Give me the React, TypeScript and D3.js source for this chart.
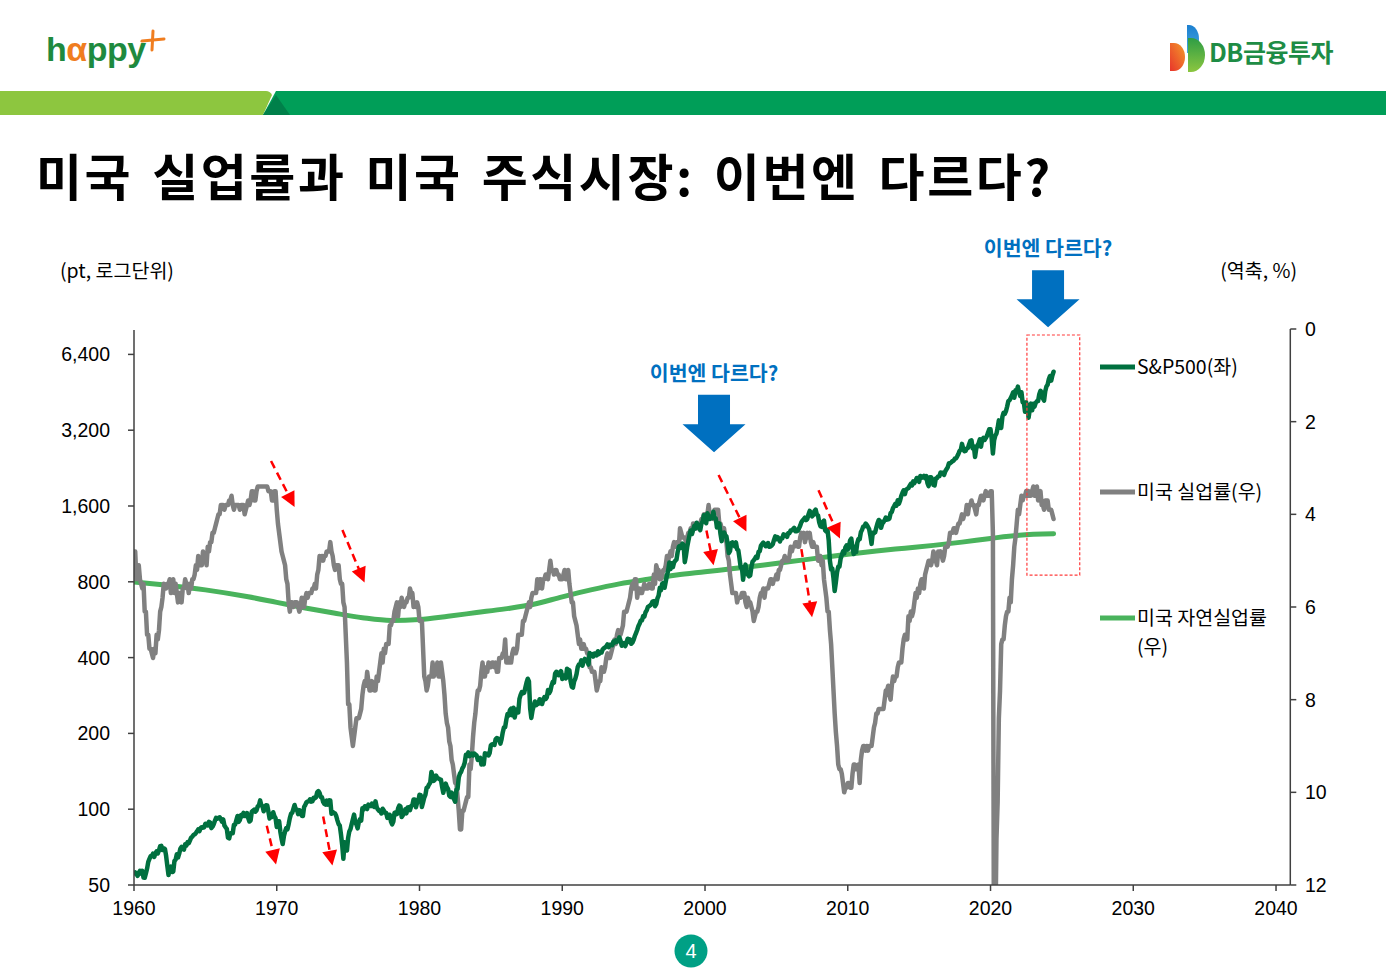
import React from "react";
import * as d3 from "d3";

// ---------------- DATA ----------------
// S&P 500 monthly closes, Jan 1960 .. Jun 2024
const spx1960s = [
  55.61, 56.12, 55.34, 54.37, 55.83, 56.92, 55.51, 56.96, 53.52, 53.39, 55.54, 58.11,
  61.78, 63.44, 65.06, 65.31, 66.56, 64.64, 66.76, 68.07, 66.73, 68.62, 71.32, 71.55,
  68.84, 69.96, 69.55, 65.24, 59.63, 54.75, 58.23, 59.12, 56.27, 56.52, 62.26, 63.1,
  66.2, 64.29, 66.57, 69.8, 70.8, 69.37, 69.13, 72.5, 71.7, 74.01, 73.23, 75.02,
  77.04, 77.8, 78.98, 79.46, 80.37, 81.69, 83.18, 81.83, 84.18, 84.86, 84.42, 84.75,
  87.56, 87.43, 86.16, 89.11, 88.42, 84.12, 85.25, 87.17, 89.96, 92.42, 91.61, 92.43,
  92.88, 91.22, 89.23, 91.06, 86.13, 84.74, 83.6, 77.1, 76.56, 80.2, 80.45, 80.33,
  86.61, 86.78, 90.2, 94.01, 89.08, 90.64, 94.75, 93.64, 96.71, 93.9, 94.0, 96.47,
  92.24, 89.36, 90.2, 97.59, 98.68, 99.58, 97.74, 98.86, 102.67, 103.41, 108.37, 103.86,
  103.01, 98.13, 101.51, 103.69, 103.46, 97.71, 91.83, 95.51, 93.12, 97.24, 93.81, 92.06,
];
const spx1970s = [
  85.02, 89.5, 89.63, 81.52, 76.55, 72.72, 78.05, 81.52, 84.21, 83.25, 87.2, 92.15,
  95.88, 96.75, 100.31, 103.95, 99.63, 99.7, 95.58, 99.03, 98.34, 94.23, 93.99, 102.09,
  103.94, 106.57, 107.2, 107.67, 109.53, 107.14, 107.39, 111.09, 110.55, 111.58, 116.67, 118.05,
  116.03, 111.68, 111.52, 106.97, 104.95, 104.26, 108.22, 104.25, 108.43, 108.29, 95.96, 97.55,
  96.57, 96.22, 93.98, 90.31, 87.28, 86.0, 79.31, 72.15, 63.54, 73.9, 69.97, 68.56,
  76.98, 81.59, 83.36, 87.3, 91.15, 95.19, 88.75, 86.88, 83.87, 89.04, 91.24, 90.19,
  100.86, 99.71, 102.77, 101.64, 100.18, 104.28, 103.44, 102.91, 105.24, 102.9, 102.1, 107.46,
  102.03, 99.82, 98.42, 98.44, 96.12, 100.48, 98.85, 96.77, 96.53, 92.34, 94.83, 95.1,
  89.25, 87.04, 89.21, 96.83, 97.24, 95.53, 100.68, 103.29, 102.54, 93.15, 94.7, 96.11,
  99.93, 96.28, 101.59, 101.76, 99.08, 102.91, 103.81, 109.32, 109.32, 101.82, 106.16, 107.94,
];
const spx1980s = [
  114.16, 113.66, 102.09, 106.29, 111.24, 114.24, 121.67, 122.38, 125.46, 127.47, 140.52, 135.76,
  129.55, 131.27, 136.0, 132.81, 132.59, 131.21, 130.92, 122.79, 116.18, 121.89, 126.35, 122.55,
  120.4, 113.11, 111.96, 116.44, 111.88, 109.61, 107.09, 119.51, 120.42, 133.71, 138.54, 140.64,
  145.3, 148.06, 152.96, 164.42, 162.39, 168.11, 162.56, 164.4, 166.07, 163.55, 166.4, 164.93,
  163.41, 157.06, 159.18, 160.05, 150.55, 153.18, 150.66, 166.68, 166.1, 166.09, 163.58, 167.24,
  179.63, 181.18, 180.66, 179.83, 189.55, 191.85, 190.92, 188.63, 182.08, 189.82, 202.17, 211.28,
  211.78, 226.92, 238.9, 235.52, 247.35, 250.84, 236.12, 252.93, 231.32, 243.98, 249.22, 242.17,
  274.08, 284.2, 291.7, 288.36, 290.1, 304.0, 318.66, 329.8, 321.83, 251.79, 230.3, 247.08,
  257.07, 267.82, 258.89, 261.33, 262.16, 273.5, 272.02, 261.52, 271.91, 278.97, 273.7, 277.72,
  297.47, 288.86, 294.87, 309.64, 320.52, 317.98, 346.08, 351.45, 349.15, 340.36, 345.99, 353.4,
];
const spx1990s = [
  329.08, 331.89, 339.94, 330.8, 361.23, 358.02, 356.15, 322.56, 306.05, 304.0, 322.22, 330.22,
  343.93, 367.07, 375.22, 375.35, 389.83, 371.16, 387.81, 395.43, 387.86, 392.45, 375.22, 417.09,
  408.79, 412.7, 403.69, 414.95, 415.35, 408.14, 424.21, 414.03, 417.8, 418.68, 431.35, 435.71,
  438.78, 443.38, 451.67, 440.19, 450.19, 450.53, 448.13, 463.56, 458.93, 467.83, 461.79, 466.45,
  481.61, 467.14, 445.77, 450.91, 456.5, 444.27, 458.26, 475.49, 462.69, 472.35, 453.69, 459.27,
  470.42, 487.39, 500.71, 514.71, 533.4, 544.75, 562.06, 561.88, 584.41, 581.5, 605.37, 615.93,
  636.02, 640.43, 645.5, 654.17, 669.12, 670.63, 639.95, 651.99, 687.33, 705.27, 757.02, 740.74,
  786.16, 790.82, 757.12, 801.34, 848.28, 885.14, 954.29, 899.47, 947.28, 914.62, 955.4, 970.43,
  980.28, 1049.34, 1101.75, 1111.75, 1090.82, 1133.84, 1120.67, 957.28, 1017.01, 1098.67, 1163.63, 1229.23,
  1279.64, 1238.33, 1286.37, 1335.18, 1301.84, 1372.71, 1328.72, 1320.41, 1282.71, 1362.93, 1388.91, 1469.25,
];
const spx2000s = [
  1394.46, 1366.42, 1498.58, 1452.43, 1420.6, 1454.6, 1430.83, 1517.68, 1436.51, 1429.4, 1314.95, 1320.28,
  1366.01, 1239.94, 1160.33, 1249.46, 1255.82, 1224.38, 1211.23, 1133.58, 1040.94, 1059.78, 1139.45, 1148.08,
  1130.2, 1106.73, 1147.39, 1076.92, 1067.14, 989.82, 911.62, 916.07, 815.28, 885.76, 936.31, 879.82,
  855.7, 841.15, 848.18, 916.92, 963.59, 974.5, 990.31, 1008.01, 995.97, 1050.71, 1058.2, 1111.92,
  1131.13, 1144.94, 1126.21, 1107.3, 1120.68, 1140.84, 1101.72, 1104.24, 1114.58, 1130.2, 1173.82, 1211.92,
  1181.27, 1203.6, 1180.59, 1156.85, 1191.5, 1191.33, 1234.18, 1220.33, 1228.81, 1207.01, 1249.48, 1248.29,
  1280.08, 1280.66, 1294.87, 1310.61, 1270.09, 1270.2, 1276.66, 1303.82, 1335.85, 1377.94, 1400.63, 1418.3,
  1438.24, 1406.82, 1420.86, 1482.37, 1530.62, 1503.35, 1455.27, 1473.99, 1526.75, 1549.38, 1481.14, 1468.36,
  1378.55, 1330.63, 1322.7, 1385.59, 1400.38, 1280.0, 1267.38, 1282.83, 1166.36, 968.75, 896.24, 903.25,
  825.88, 735.09, 797.87, 872.81, 919.14, 919.32, 987.48, 1020.62, 1057.08, 1036.19, 1095.63, 1115.1,
];
const spx2010s = [
  1073.87, 1104.49, 1169.43, 1186.69, 1089.41, 1030.71, 1101.6, 1049.33, 1141.2, 1183.26, 1180.55, 1257.64,
  1286.12, 1327.22, 1325.83, 1363.61, 1345.2, 1320.64, 1292.28, 1218.89, 1131.42, 1253.3, 1246.96, 1257.6,
  1312.41, 1365.68, 1408.47, 1397.91, 1310.33, 1362.16, 1379.32, 1406.58, 1440.67, 1412.16, 1416.18, 1426.19,
  1498.11, 1514.68, 1569.19, 1597.57, 1630.74, 1606.28, 1685.73, 1632.97, 1681.55, 1756.54, 1805.81, 1848.36,
  1782.59, 1859.45, 1872.34, 1883.95, 1923.57, 1960.23, 1930.67, 2003.37, 1972.29, 2018.05, 2067.56, 2058.9,
  1994.99, 2104.5, 2067.89, 2085.51, 2107.39, 2063.11, 2103.84, 1972.18, 1920.03, 2079.36, 2080.41, 2043.94,
  1940.24, 1932.23, 2059.74, 2065.3, 2096.95, 2098.86, 2173.6, 2170.95, 2168.27, 2126.15, 2198.81, 2238.83,
  2278.87, 2363.64, 2362.72, 2384.2, 2411.8, 2423.41, 2470.3, 2471.65, 2519.36, 2575.26, 2647.58, 2673.61,
  2823.81, 2713.83, 2640.87, 2648.05, 2705.27, 2718.37, 2816.29, 2901.52, 2913.98, 2711.74, 2760.17, 2506.85,
  2704.1, 2784.49, 2834.4, 2945.83, 2752.06, 2941.76, 2980.38, 2926.46, 2976.74, 3037.56, 3140.98, 3230.78,
];
const spx2020s = [
  3225.52, 2954.22, 2584.59, 2912.43, 3044.31, 3100.29, 3271.12, 3500.31, 3363.0, 3269.96, 3621.63, 3756.07,
  3714.24, 3811.15, 3972.89, 4181.17, 4204.11, 4297.5, 4395.26, 4522.68, 4307.54, 4605.38, 4567.0, 4766.18,
  4515.55, 4373.94, 4530.41, 4131.93, 4132.15, 3785.38, 4130.29, 3955.0, 3585.62, 3871.98, 4080.11, 3839.5,
  4076.6, 3970.15, 4109.31, 4169.48, 4179.83, 4450.38, 4588.96, 4507.66, 4288.05, 4193.8, 4567.8, 4769.83,
  4845.65, 5096.27, 5254.35, 5035.69, 5277.51, 5460.48,
];

// US unemployment rate (%), monthly, Jan 1960 .. Jun 2024
const ur1960s = [
  5.2, 4.8, 5.4, 5.2, 5.1, 5.4, 5.5, 5.6, 5.5, 6.1, 6.1, 6.6,
  6.6, 6.9, 6.9, 7.0, 7.1, 6.9, 7.0, 6.6, 6.7, 6.5, 6.1, 6.0,
  5.8, 5.5, 5.6, 5.6, 5.5, 5.5, 5.4, 5.7, 5.6, 5.4, 5.7, 5.5,
  5.7, 5.9, 5.7, 5.7, 5.9, 5.6, 5.6, 5.4, 5.5, 5.5, 5.7, 5.5,
  5.6, 5.4, 5.4, 5.3, 5.1, 5.2, 4.9, 5.0, 5.1, 5.1, 4.8, 5.0,
  4.9, 5.1, 4.7, 4.8, 4.6, 4.6, 4.4, 4.4, 4.3, 4.2, 4.1, 4.0,
  4.0, 3.8, 3.8, 3.8, 3.9, 3.8, 3.8, 3.8, 3.7, 3.7, 3.6, 3.8,
  3.9, 3.8, 3.8, 3.8, 3.8, 3.9, 3.8, 3.8, 3.8, 4.0, 3.9, 3.8,
  3.7, 3.8, 3.7, 3.5, 3.5, 3.7, 3.7, 3.5, 3.4, 3.4, 3.4, 3.4,
  3.4, 3.4, 3.4, 3.4, 3.4, 3.5, 3.5, 3.5, 3.7, 3.7, 3.5, 3.5,
];
const ur1970s = [
  3.9, 4.2, 4.4, 4.6, 4.8, 4.9, 5.0, 5.1, 5.4, 5.5, 5.9, 6.1,
  5.9, 5.9, 6.0, 5.9, 5.9, 5.9, 6.0, 6.1, 6.0, 5.8, 6.0, 6.0,
  5.8, 5.7, 5.8, 5.7, 5.7, 5.7, 5.6, 5.6, 5.5, 5.6, 5.3, 5.2,
  4.9, 5.0, 4.9, 5.0, 4.9, 4.9, 4.8, 4.8, 4.8, 4.6, 4.8, 4.9,
  5.1, 5.2, 5.1, 5.1, 5.1, 5.4, 5.5, 5.5, 5.9, 6.0, 6.6, 7.2,
  8.1, 8.1, 8.6, 8.8, 9.0, 8.8, 8.6, 8.4, 8.4, 8.4, 8.3, 8.2,
  7.9, 7.7, 7.6, 7.7, 7.4, 7.6, 7.8, 7.8, 7.6, 7.7, 7.8, 7.8,
  7.5, 7.6, 7.4, 7.2, 7.0, 7.2, 6.9, 7.0, 6.8, 6.8, 6.8, 6.4,
  6.4, 6.3, 6.3, 6.1, 6.0, 5.9, 6.2, 5.9, 6.0, 5.8, 5.9, 6.0,
  5.9, 5.9, 5.8, 5.8, 5.6, 5.7, 5.7, 6.0, 5.9, 6.0, 5.9, 6.0,
];
const ur1980s = [
  6.3, 6.3, 6.3, 6.9, 7.5, 7.6, 7.8, 7.7, 7.5, 7.5, 7.5, 7.2,
  7.5, 7.4, 7.4, 7.2, 7.5, 7.5, 7.2, 7.4, 7.6, 7.9, 8.3, 8.5,
  8.6, 8.9, 9.0, 9.3, 9.4, 9.6, 9.8, 9.8, 10.1, 10.4, 10.8, 10.8,
  10.4, 10.4, 10.3, 10.2, 10.1, 10.1, 9.4, 9.5, 9.2, 8.8, 8.5, 8.3,
  8.0, 7.8, 7.8, 7.7, 7.4, 7.2, 7.5, 7.5, 7.3, 7.4, 7.2, 7.3,
  7.3, 7.2, 7.2, 7.3, 7.2, 7.4, 7.4, 7.1, 7.1, 7.1, 7.0, 7.0,
  6.7, 7.2, 7.2, 7.1, 7.2, 7.2, 7.0, 6.9, 7.0, 7.0, 6.9, 6.6,
  6.6, 6.6, 6.6, 6.3, 6.3, 6.2, 6.1, 6.0, 5.9, 6.0, 5.8, 5.7,
  5.7, 5.7, 5.7, 5.4, 5.6, 5.4, 5.4, 5.6, 5.4, 5.4, 5.3, 5.3,
  5.4, 5.2, 5.0, 5.2, 5.2, 5.3, 5.2, 5.2, 5.3, 5.3, 5.4, 5.4,
];
const ur1990s = [
  5.4, 5.3, 5.2, 5.4, 5.4, 5.2, 5.5, 5.7, 5.9, 5.9, 6.2, 6.3,
  6.4, 6.6, 6.8, 6.7, 6.9, 6.9, 6.8, 6.9, 6.9, 7.0, 7.0, 7.3,
  7.3, 7.4, 7.4, 7.4, 7.6, 7.8, 7.7, 7.6, 7.6, 7.3, 7.4, 7.4,
  7.3, 7.1, 7.0, 7.1, 7.1, 7.0, 6.9, 6.8, 6.7, 6.8, 6.6, 6.5,
  6.6, 6.6, 6.5, 6.4, 6.1, 6.1, 6.1, 6.0, 5.9, 5.8, 5.6, 5.5,
  5.6, 5.4, 5.4, 5.8, 5.6, 5.6, 5.7, 5.7, 5.6, 5.5, 5.6, 5.6,
  5.6, 5.5, 5.5, 5.6, 5.6, 5.3, 5.5, 5.1, 5.2, 5.2, 5.4, 5.4,
  5.3, 5.2, 5.2, 5.1, 4.9, 5.0, 4.9, 4.8, 4.9, 4.7, 4.6, 4.7,
  4.6, 4.6, 4.7, 4.3, 4.4, 4.5, 4.5, 4.5, 4.6, 4.5, 4.4, 4.4,
  4.3, 4.4, 4.2, 4.3, 4.2, 4.3, 4.3, 4.2, 4.2, 4.1, 4.1, 4.0,
];
const ur2000s = [
  4.0, 4.1, 4.0, 3.8, 4.0, 4.0, 4.0, 4.1, 3.9, 3.9, 3.9, 3.9,
  4.2, 4.2, 4.3, 4.4, 4.3, 4.5, 4.6, 4.9, 5.0, 5.3, 5.5, 5.7,
  5.7, 5.7, 5.7, 5.9, 5.8, 5.8, 5.8, 5.7, 5.7, 5.7, 5.9, 6.0,
  5.8, 5.9, 5.9, 6.0, 6.1, 6.3, 6.2, 6.1, 6.1, 6.0, 5.8, 5.7,
  5.7, 5.6, 5.8, 5.6, 5.6, 5.6, 5.5, 5.4, 5.4, 5.5, 5.4, 5.4,
  5.3, 5.4, 5.2, 5.2, 5.1, 5.0, 5.0, 4.9, 5.0, 5.0, 5.0, 4.9,
  4.7, 4.8, 4.7, 4.7, 4.6, 4.6, 4.7, 4.7, 4.5, 4.4, 4.5, 4.4,
  4.6, 4.5, 4.4, 4.5, 4.4, 4.6, 4.7, 4.6, 4.7, 4.7, 4.7, 5.0,
  5.0, 4.9, 5.1, 5.0, 5.4, 5.6, 5.8, 6.1, 6.1, 6.5, 6.8, 7.3,
  7.8, 8.3, 8.7, 9.0, 9.4, 9.5, 9.5, 9.6, 9.8, 10.0, 9.9, 9.9,
];
const ur2010s = [
  9.8, 9.8, 9.9, 9.9, 9.6, 9.4, 9.4, 9.5, 9.5, 9.4, 9.8, 9.3,
  9.1, 9.0, 9.0, 9.1, 9.0, 9.1, 9.0, 9.0, 9.0, 8.8, 8.6, 8.5,
  8.3, 8.3, 8.2, 8.2, 8.2, 8.2, 8.2, 8.0, 7.8, 7.8, 7.7, 7.9,
  8.0, 7.7, 7.5, 7.6, 7.5, 7.5, 7.3, 7.2, 7.2, 7.2, 6.9, 6.7,
  6.6, 6.7, 6.7, 6.2, 6.3, 6.1, 6.2, 6.1, 5.9, 5.7, 5.8, 5.6,
  5.7, 5.5, 5.4, 5.4, 5.6, 5.3, 5.2, 5.1, 5.0, 5.0, 5.1, 5.0,
  4.8, 4.9, 5.0, 5.1, 4.8, 4.9, 4.8, 4.9, 5.0, 4.9, 4.7, 4.7,
  4.7, 4.6, 4.4, 4.4, 4.4, 4.3, 4.3, 4.4, 4.3, 4.2, 4.2, 4.1,
  4.0, 4.1, 4.0, 4.0, 3.8, 4.0, 3.8, 3.8, 3.7, 3.8, 3.8, 3.9,
  4.0, 3.8, 3.8, 3.7, 3.6, 3.6, 3.7, 3.6, 3.5, 3.6, 3.6, 3.6,
];
const ur2020s = [
  3.5, 3.5, 4.4, 14.8, 13.2, 11.0, 10.2, 8.4, 7.8, 6.8, 6.7, 6.7,
  6.4, 6.2, 6.1, 6.1, 5.8, 5.9, 5.4, 5.1, 4.7, 4.5, 4.2, 3.9,
  4.0, 3.8, 3.6, 3.7, 3.6, 3.6, 3.5, 3.6, 3.5, 3.6, 3.6, 3.5,
  3.4, 3.6, 3.5, 3.4, 3.7, 3.6, 3.5, 3.8, 3.8, 3.9, 3.7, 3.7,
  3.7, 3.9, 3.9, 3.9, 4.0, 4.1,
];

// Natural rate of unemployment (%)
const natYears = [1960, 1962, 1965, 1968, 1970, 1972, 1974, 1976, 1978, 1980, 1982, 1984, 1986, 1988, 1990, 1992, 1994, 1996, 1998, 2000, 2002, 2004, 2006, 2008, 2010, 2012, 2014, 2016, 2018, 2020, 2022, 2024.42];
const natRate = [5.46, 5.52, 5.63, 5.78, 5.9, 6.02, 6.13, 6.23, 6.29, 6.27, 6.2, 6.12, 6.04, 5.94, 5.78, 5.63, 5.5, 5.4, 5.31, 5.24, 5.17, 5.1, 5.02, 4.94, 4.86, 4.79, 4.73, 4.67, 4.6, 4.52, 4.45, 4.42];

const START_YEAR = 1960;
const leftTicks = [50, 100, 200, 400, 800, 1600, 3200, 6400];
const rightTicks = [0, 2, 4, 6, 8, 10, 12];
const xTicks = [1960, 1970, 1980, 1990, 2000, 2010, 2020, 2030, 2040];

// Annotation arrows (year, unemployment-axis value)
const redArrows = [
  { x0: 1969.6, v0: 2.85, x1: 1971.25, v1: 3.84 },
  { x0: 1974.6, v0: 4.34, x1: 1976.15, v1: 5.47 },
  { x0: 2000.95, v0: 3.15, x1: 2002.9, v1: 4.37 },
  { x0: 2007.95, v0: 3.48, x1: 2009.45, v1: 4.52 },
  { x0: 2000.1, v0: 4.35, x1: 2000.6, v1: 5.1 },
  { x0: 2006.75, v0: 4.75, x1: 2007.5, v1: 6.22 },
  { x0: 1969.3, v0: 10.72, x1: 1969.95, v1: 11.56 },
  { x0: 1973.25, v0: 10.52, x1: 1973.9, v1: 11.58 },
];
const blueArrows = [
  { year: 2000.63, vTop: 1.42, vTip: 2.66, label: "이번엔 다르다?" },
  { year: 2024.03, vTop: -1.27, vTip: -0.04, label: "이번엔 다르다?" },
];
const focusBox = { x0: 2022.55, x1: 2026.25, v0: 0.13, v1: 5.31 };

const legendItems = [
  { label: "S&P500(좌)", color: "#00703F", y: 367 },
  { label: "미국 실업률(우)", color: "#808080", y: 492 },
  { label: "미국 자연실업률", color: "#49B35C", y: 618, sub: "(우)" },
];

// ---------------- CHART ----------------
const W = 1386;
const H = 976;
const plot = { left: 134, right: 1290.3, top: 329, bottom: 885 };

const x = d3.scaleLinear().domain([1960, 2041]).range([plot.left, plot.right]);
const yL = d3.scaleLog().base(2).domain([50, 8000]).range([plot.bottom, 330]);
const yR = d3.scaleLinear().domain([0, 12]).range([plot.top, plot.bottom]);

const monthly = (arr: number[]) => arr.map((v, i) => ({ t: START_YEAR + i / 12, v }));
const spx = monthly([...spx1960s, ...spx1970s, ...spx1980s, ...spx1990s, ...spx2000s, ...spx2010s, ...spx2020s]);
const ur = monthly([...ur1960s, ...ur1970s, ...ur1980s, ...ur1990s, ...ur2000s, ...ur2010s, ...ur2020s]);
const nat = natYears.map((t, i) => ({ t, v: natRate[i] }));

const lineL = d3.line<{ t: number; v: number }>().x((d) => x(d.t)).y((d) => yL(d.v));
const lineR = d3.line<{ t: number; v: number }>().x((d) => x(d.t)).y((d) => yR(d.v));
const lineNat = d3
  .line<{ t: number; v: number }>()
  .x((d) => x(d.t))
  .y((d) => yR(d.v))
  .curve(d3.curveMonotoneX);

const KR = "'Noto Sans CJK KR', 'Noto Sans', sans-serif";
const NUM = "'Liberation Sans', Arial, sans-serif";

function RedArrow({ a }: { a: { x0: number; v0: number; x1: number; v1: number } }) {
  const p0 = [x(a.x0), yR(a.v0)];
  const p1 = [x(a.x1), yR(a.v1)];
  const dx = p1[0] - p0[0];
  const dy = p1[1] - p0[1];
  const len = Math.hypot(dx, dy);
  const ux = dx / len;
  const uy = dy / len;
  const hl = 15;
  const hw = 7.5;
  const bx = p1[0] - ux * hl;
  const by = p1[1] - uy * hl;
  const pts = [
    [p1[0], p1[1]],
    [bx - uy * hw, by + ux * hw],
    [bx + uy * hw, by - ux * hw],
  ];
  return (
    <g>
      <line x1={p0[0]} y1={p0[1]} x2={bx + ux * 2} y2={by + uy * 2} stroke="#FF0000" strokeWidth={2.5} strokeDasharray="8 5" />
      <polygon points={pts.map((p) => p.join(",")).join(" ")} fill="#FF0000" />
    </g>
  );
}

function BlueArrow({ a }: { a: { year: number; vTop: number; vTip: number; label: string } }) {
  const cx = x(a.year);
  const top = yR(a.vTop);
  const tip = yR(a.vTip);
  const headH = 28;
  const sw = 16;
  const hw = 31.5;
  const neck = tip - headH;
  const d = `M${cx - sw},${top} L${cx + sw},${top} L${cx + sw},${neck} L${cx + hw},${neck} L${cx},${tip} L${cx - hw},${neck} L${cx - sw},${neck} Z`;
  return (
    <g>
      <path d={d} fill="#0070C0" />
      <text x={cx} y={top - 14} textAnchor="middle" fontFamily={KR} fontWeight={700} fontSize={20.5} fill="#0070C0">
        {a.label}
      </text>
    </g>
  );
}

export default function App() {
  return (
    <svg width={W} height={H} style={{ position: "absolute", left: 0, top: 0, background: "#fff" }}>
      <defs>
        <clipPath id="plotClip">
          <rect x={plot.left} y={plot.top - 10} width={plot.right - plot.left} height={plot.bottom - plot.top + 10} />
        </clipPath>
        <linearGradient id="gOrange" x1="0" y1="1" x2="1" y2="0">
          <stop offset="0" stopColor="#E8352B" />
          <stop offset="1" stopColor="#F39A2A" />
        </linearGradient>
        <linearGradient id="gBlue" x1="0" y1="0" x2="0" y2="1">
          <stop offset="0" stopColor="#1C7FD0" />
          <stop offset="1" stopColor="#43A8E0" />
        </linearGradient>
        <linearGradient id="gGreen" x1="0" y1="0" x2="0" y2="1">
          <stop offset="0" stopColor="#2E9D45" />
          <stop offset="1" stopColor="#8CC63F" />
        </linearGradient>
      </defs>
      <rect x={0} y={0} width={W} height={H} fill="#fff" />

      {/* Header: happy+ logo */}
      <g fontFamily={NUM} fontWeight={700} fontSize={34}>
        <text x={46} y={61} fill="#1E8A3E" letterSpacing={-0.5}>
          h<tspan fill="#F07D1F">α</tspan>ppy
        </text>
      </g>
      <g stroke="#F07D1F" strokeWidth={3} strokeLinecap="round">
        <line x1={142} y1={41} x2={164} y2={39} />
        <line x1={153} y1={31} x2={152} y2={50} />
      </g>

      {/* Header: DB logo */}
      <g>
        <path d="M1170,43 L1174,43 A11,14 0 0 1 1174,71 L1170,71 Z" fill="url(#gOrange)" />
        <path d="M1187,25 L1189,25 A10,14 0 0 1 1189,53 L1187,53 Z" fill="url(#gBlue)" />
        <path d="M1188,38 L1191,38 A14,17 0 0 1 1191,72 L1188,72 Z" fill="url(#gGreen)" />
        <text x={1209} y={62} fontFamily={KR} fontWeight={700} fontSize={25} fill="#1E8C45" letterSpacing={-0.5}>
          DB금융투자
        </text>
      </g>

      {/* Green band */}
      <path d="M0,91 L266,91 Q270,91 272,95 L263,115 L0,115 Z" fill="#8DC63F" />
      <path d="M276,91 L1386,91 L1386,115 L263,115 Z" fill="#009E58" />
      <path d="M263,115 L290,115 L276,95 Z" fill="#00804A" />

      {/* Title */}
      <text x={36} y={196} fontFamily={KR} fontWeight={700} fontSize={50} fill="#000" letterSpacing={2.6} wordSpacing={5}>
        미국 실업률과 미국 주식시장: 이번엔 다르다?
      </text>

      {/* Axis unit labels */}
      <text x={60} y={278} fontFamily={KR} fontSize={19.5} fill="#000">(pt, 로그단위)</text>
      <text x={1297} y={278} fontFamily={KR} fontSize={19.5} fill="#000" textAnchor="end">(역축, %)</text>

      {/* Series */}
      <g clipPath="url(#plotClip)" fill="none" strokeLinejoin="round" strokeLinecap="round">
        <path d={lineNat(nat) || ""} stroke="#49B35C" strokeWidth={5} />
        <path d={lineR(ur) || ""} stroke="#808080" strokeWidth={4.5} />
        <path d={lineL(spx) || ""} stroke="#00703F" strokeWidth={4.5} />
      </g>

      {/* Axes */}
      <g stroke="#404040" strokeWidth={1.5}>
        <line x1={plot.left} y1={330} x2={plot.left} y2={plot.bottom} />
        <line x1={plot.left} y1={plot.bottom} x2={plot.right} y2={plot.bottom} />
        <line x1={plot.right} y1={plot.top} x2={plot.right} y2={plot.bottom} />
        {leftTicks.map((t) => (
          <line key={"lt" + t} x1={plot.left - 6} x2={plot.left} y1={yL(t)} y2={yL(t)} />
        ))}
        {rightTicks.map((t) => (
          <line key={"rt" + t} x1={plot.right} x2={plot.right + 6} y1={yR(t)} y2={yR(t)} />
        ))}
        {xTicks.map((t) => (
          <line key={"xt" + t} x1={x(t)} x2={x(t)} y1={plot.bottom} y2={plot.bottom + 6} />
        ))}
      </g>
      <g fontFamily={NUM} fontSize={19.5} fill="#000">
        {leftTicks.map((t) => (
          <text key={"ll" + t} x={110} y={yL(t)} dy="0.36em" textAnchor="end">
            {d3.format(",")(t)}
          </text>
        ))}
        {rightTicks.map((t) => (
          <text key={"rl" + t} x={1305} y={yR(t)} dy="0.36em" textAnchor="start">
            {t}
          </text>
        ))}
        {xTicks.map((t) => (
          <text key={"xl" + t} x={x(t)} y={915} textAnchor="middle">
            {t}
          </text>
        ))}
      </g>

      {/* Annotations */}
      <rect
        x={x(focusBox.x0)}
        y={yR(focusBox.v0)}
        width={x(focusBox.x1) - x(focusBox.x0)}
        height={yR(focusBox.v1) - yR(focusBox.v0)}
        fill="none"
        stroke="#FF3B3B"
        strokeWidth={1.2}
        strokeDasharray="3 2"
      />
      {redArrows.map((a, i) => (
        <RedArrow key={"ra" + i} a={a} />
      ))}
      {blueArrows.map((a, i) => (
        <BlueArrow key={"ba" + i} a={a} />
      ))}

      {/* Legend */}
      <g fontFamily={KR} fontSize={19.5} fill="#000">
        {legendItems.map((it) => (
          <g key={it.label}>
            <line x1={1100} x2={1135} y1={it.y} y2={it.y} stroke={it.color} strokeWidth={5} />
            <text x={1137} y={it.y} dy="0.36em">{it.label}</text>
            {it.sub ? (
              <text x={1137} y={it.y + 29} dy="0.36em">{it.sub}</text>
            ) : null}
          </g>
        ))}
      </g>

      {/* Page number */}
      <circle cx={691} cy={951} r={16.5} fill="#00A085" />
      <text x={691} y={951} dy="0.36em" textAnchor="middle" fontFamily={NUM} fontSize={20} fill="#fff">4</text>
    </svg>
  );
}
